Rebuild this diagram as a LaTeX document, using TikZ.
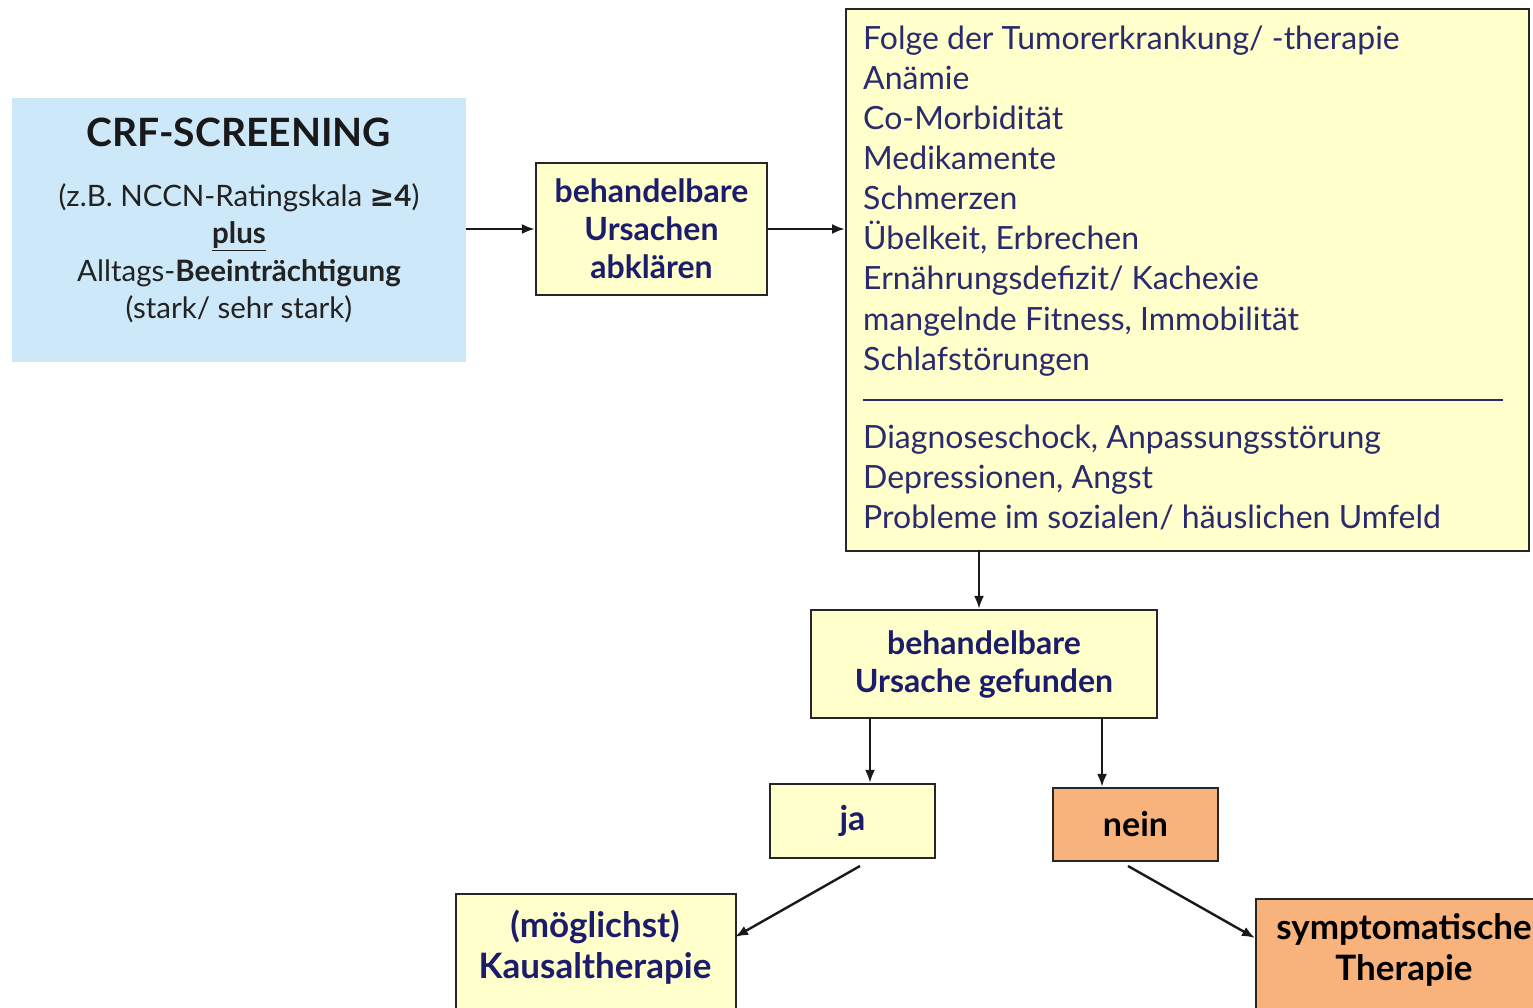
\documentclass[tikz,border=0pt]{standalone}
\usepackage{fontspec}
\setmainfont{Lato}
\newfontfamily\symfont{DejaVu Sans}
\usetikzlibrary{arrows.meta}
\definecolor{crfblue}{HTML}{CDE8F8}
\definecolor{boxyellow}{HTML}{FFFFCC}
\definecolor{boxorange}{HTML}{F8B27C}
\definecolor{navy}{HTML}{1C1C6C}
\definecolor{listnavy}{HTML}{2A2A6E}
\definecolor{greytxt}{HTML}{222222}
\tikzset{
  ybox/.style={draw=black!85, line width=2.2pt, fill=boxyellow, inner sep=0pt, align=center, text=navy, font=\bfseries\fontsize{32}{38}\selectfont},
  obox/.style={ybox, fill=boxorange, text=black},
  conn/.style={line width=2.4pt, draw=black!90, -{Latex[length=13pt,width=10pt]}},
  listtxt/.style={anchor=base west, inner sep=0pt, text=listnavy, font=\fontsize{32}{40}\selectfont},
}
\begin{document}
\begin{tikzpicture}[x=1pt,y=-1pt]
\clip (0,0) rectangle (1533,1008);
\fill[white] (0,0) rectangle (1533,1008);

% CRF screening box
\node[fill=crfblue, minimum width=454pt, minimum height=264pt, inner sep=0pt, anchor=north west] (crf) at (12,98) {};
\node[font=\bfseries\fontsize{39}{40}\selectfont, text=black!90, inner sep=0pt] (crftitle) at (239,132) {CRF-SCREENING};
\node[align=center, inner sep=0pt, text=greytxt, font=\fontsize{29.5}{37.5}\selectfont, anchor=north] (crftext) at (239,183)
  {(z.B. NCCN-Ratingskala \textbf{{\symfont ≥}4})\\
   \textbf{\underline{plus}}\\
   Alltags-\textbf{Beeinträchtigung}\\
   (stark/ sehr stark)};

% behandelbare Ursachen abklären
\node[ybox, minimum width=231pt, minimum height=132pt] (abkl) at (651.5,229) {behandelbare\\Ursachen\\abklären};

% list box
\node[draw=black!85, line width=2.2pt, fill=boxyellow, minimum width=683pt, minimum height=542pt, inner sep=0pt, anchor=north west] (lst) at (845,8) {};
\foreach \t [count=\i] in {Folge der Tumorerkrankung/ -therapie, Anämie, Co-Morbidität, Medikamente, Schmerzen, Übelkeit{,} Erbrechen, Ernährungsdefizit/ Kachexie, mangelnde Fitness{,} Immobilität, Schlafstörungen}
  \node[listtxt] (la\i) at (863,{50+40*(\i-1)}) {\t};
\foreach \t [count=\i] in {Diagnoseschock{,} Anpassungsstörung, Depressionen{,} Angst, Probleme im sozialen/ häuslichen Umfeld}
  \node[listtxt] (lb\i) at (863,{448+40*(\i-1)}) {\t};
\coordinate (sepL) at (863,400);
\coordinate (sepR) at (1503,400);
\draw[line width=2.5pt, listnavy] (sepL) -- (sepR);

% gefunden
\node[ybox, minimum width=346pt, minimum height=108pt] (gef) at (984,664) {behandelbare\\Ursache gefunden};

% ja / nein
\node[ybox, minimum width=165pt, minimum height=74pt, font=\bfseries\fontsize{34}{38}\selectfont] (ja) at (852.5,821) {ja};
\node[obox, minimum width=165pt, minimum height=73pt, font=\bfseries\fontsize{34}{38}\selectfont] (nein) at (1135.5,824.5) {nein};

% final boxes
\node[ybox, minimum width=280pt, minimum height=140pt, anchor=north west] (kaus) at (455,893) {};
\node[align=center, text=navy, font=\bfseries\fontsize{35}{41}\selectfont, inner sep=0pt] (kaust) at (595,947) {(möglichst)\\Kausaltherapie};
\node[obox, minimum width=300pt, minimum height=140pt, anchor=north west] (sym) at (1255,898) {};
\node[align=center, text=black, font=\bfseries\fontsize{35}{41}\selectfont, inner sep=0pt] (symt) at (1404,950) {symptomatische\\Therapie};

% connectors
\draw[conn] (crf.east |- abkl.west) -- (abkl.west);
\draw[conn] (abkl.east) -- (abkl.east -| lst.west);
\coordinate (lstout) at (979,550);
\draw[conn] (lstout) -- (lstout |- gef.north);
\coordinate (gefL) at (870,718);
\coordinate (gefR) at (1102,718);
\draw[conn] (gefL) -- (gefL |- ja.north);
\draw[conn] (gefR) -- (gefR |- nein.north);
\coordinate (jaout) at (860,866);
\coordinate (kausin) at (735,937);
\draw[conn] (jaout) -- (kausin);
\coordinate (neinout) at (1128,866);
\coordinate (symin) at (1255,938);
\draw[conn] (neinout) -- (symin);
\end{tikzpicture}
\end{document}
